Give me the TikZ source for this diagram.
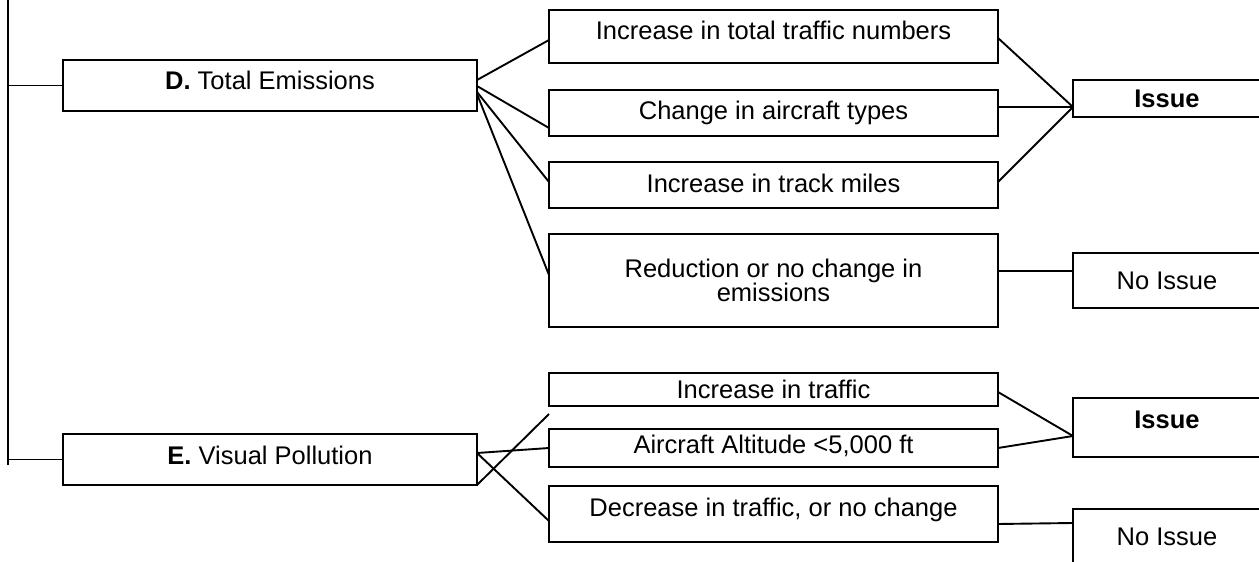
\documentclass[tikz,border=0pt]{standalone}
\usepackage{fontspec}
\setmainfont{Liberation Sans}
\begin{document}
\begin{tikzpicture}[x=1pt,y=-1pt,
  box/.style={draw, line width=2.2pt, inner sep=0pt, outer sep=0pt, align=center,
    font=\fontsize{25.5}{24}\selectfont},
  mid/.style={box, minimum width=449pt},
  res/.style={box, minimum width=188pt},
  cat/.style={box, minimum width=414pt, minimum height=51pt},
  link/.style={line width=1.9pt}]
\useasboundingbox (0,0) rectangle (1259,562);
\clip (0,0) rectangle (1259,562);
% spine
\coordinate (top) at (8,0);
\coordinate (bot) at (8,465);
\draw[link] (top) -- (bot);
% category boxes
\node[cat] (D) at (270,85.5) {\raisebox{11pt}{\textbf{D.} Total Emissions}};
\node[cat] (E) at (270,459.5) {\raisebox{8pt}{\textbf{E.} Visual Pollution}};
% D branches
\node[mid, minimum height=53pt] (B1) at (773.5,36.5) {\raisebox{13pt}{Increase in total traffic numbers}};
\node[mid, minimum height=46pt] (B2) at (773.5,113) {\raisebox{4pt}{Change in aircraft types}};
\node[mid, minimum height=46pt] (B3) at (773.5,185) {\raisebox{4pt}{Increase in track miles}};
\node[mid, minimum height=93pt] (B4) at (773.5,280.5) {Reduction or no change in\\emissions};
\node[res, minimum height=37pt] (R1) at (1167,98.5) {\textbf{Issue}};
\node[res, minimum height=55pt] (R2) at (1167,280.5) {No Issue};
% E branches
\node[mid, minimum height=33pt] (C1) at (773.5,389.5) {Increase in traffic};
\node[mid, minimum height=38pt] (C2) at (773.5,448) {\raisebox{8pt}{Aircraft Altitude <5,000 ft}};
\node[mid, minimum height=56pt] (C3) at (773.5,514) {\raisebox{14pt}{Decrease in traffic, or no change}};
\node[res, minimum height=59pt] (R3) at (1167,427.5) {\raisebox{15pt}{\textbf{Issue}}};
\node[res, minimum height=55pt] (R4) at (1167,536.5) {No Issue};
% spine connectors
\draw[link] (D.west) -- (D.west -| top);
\draw[link] (E.west) -- (E.west -| top);
% D connectors
\draw[link] ([yshift=5.5pt]D.east) -- ([yshift=-3.5pt]B1.west);
\draw[link] ([yshift=-0.5pt]D.east) -- ([yshift=-15pt]B2.west);
\draw[link] ([yshift=-6.5pt]D.east) -- ([yshift=3pt]B3.west);
\draw[link] ([yshift=-8.5pt]D.east) -- ([yshift=5.5pt]B4.west);
\draw[link] ([yshift=-1.5pt]B1.east) -- ([yshift=-8.5pt]R1.west);
\draw[link] ([yshift=6pt]B2.east) -- ([yshift=-8.5pt]R1.west);
\draw[link] ([yshift=3pt]B3.east) -- ([yshift=-8.5pt]R1.west);
\draw[link] ([yshift=9.5pt]B4.east) -- ([yshift=9.5pt]R2.west);
% E connectors
\coordinate (free) at (549,414);
\draw[link] (E.south east) -- (free);
\draw[link] ([yshift=6.5pt]E.east) -- (C2.west);
\draw[link] ([yshift=6.5pt]E.east) -- ([yshift=-7pt]C3.west);
\draw[link] ([yshift=-2.5pt]C1.east) -- ([yshift=-8.5pt]R3.west);
\draw[link] (C2.east) -- ([yshift=-8.5pt]R3.west);
\draw[link] ([yshift=-10pt]C3.east) -- ([yshift=13.5pt]R4.west);
\end{tikzpicture}
\end{document}
